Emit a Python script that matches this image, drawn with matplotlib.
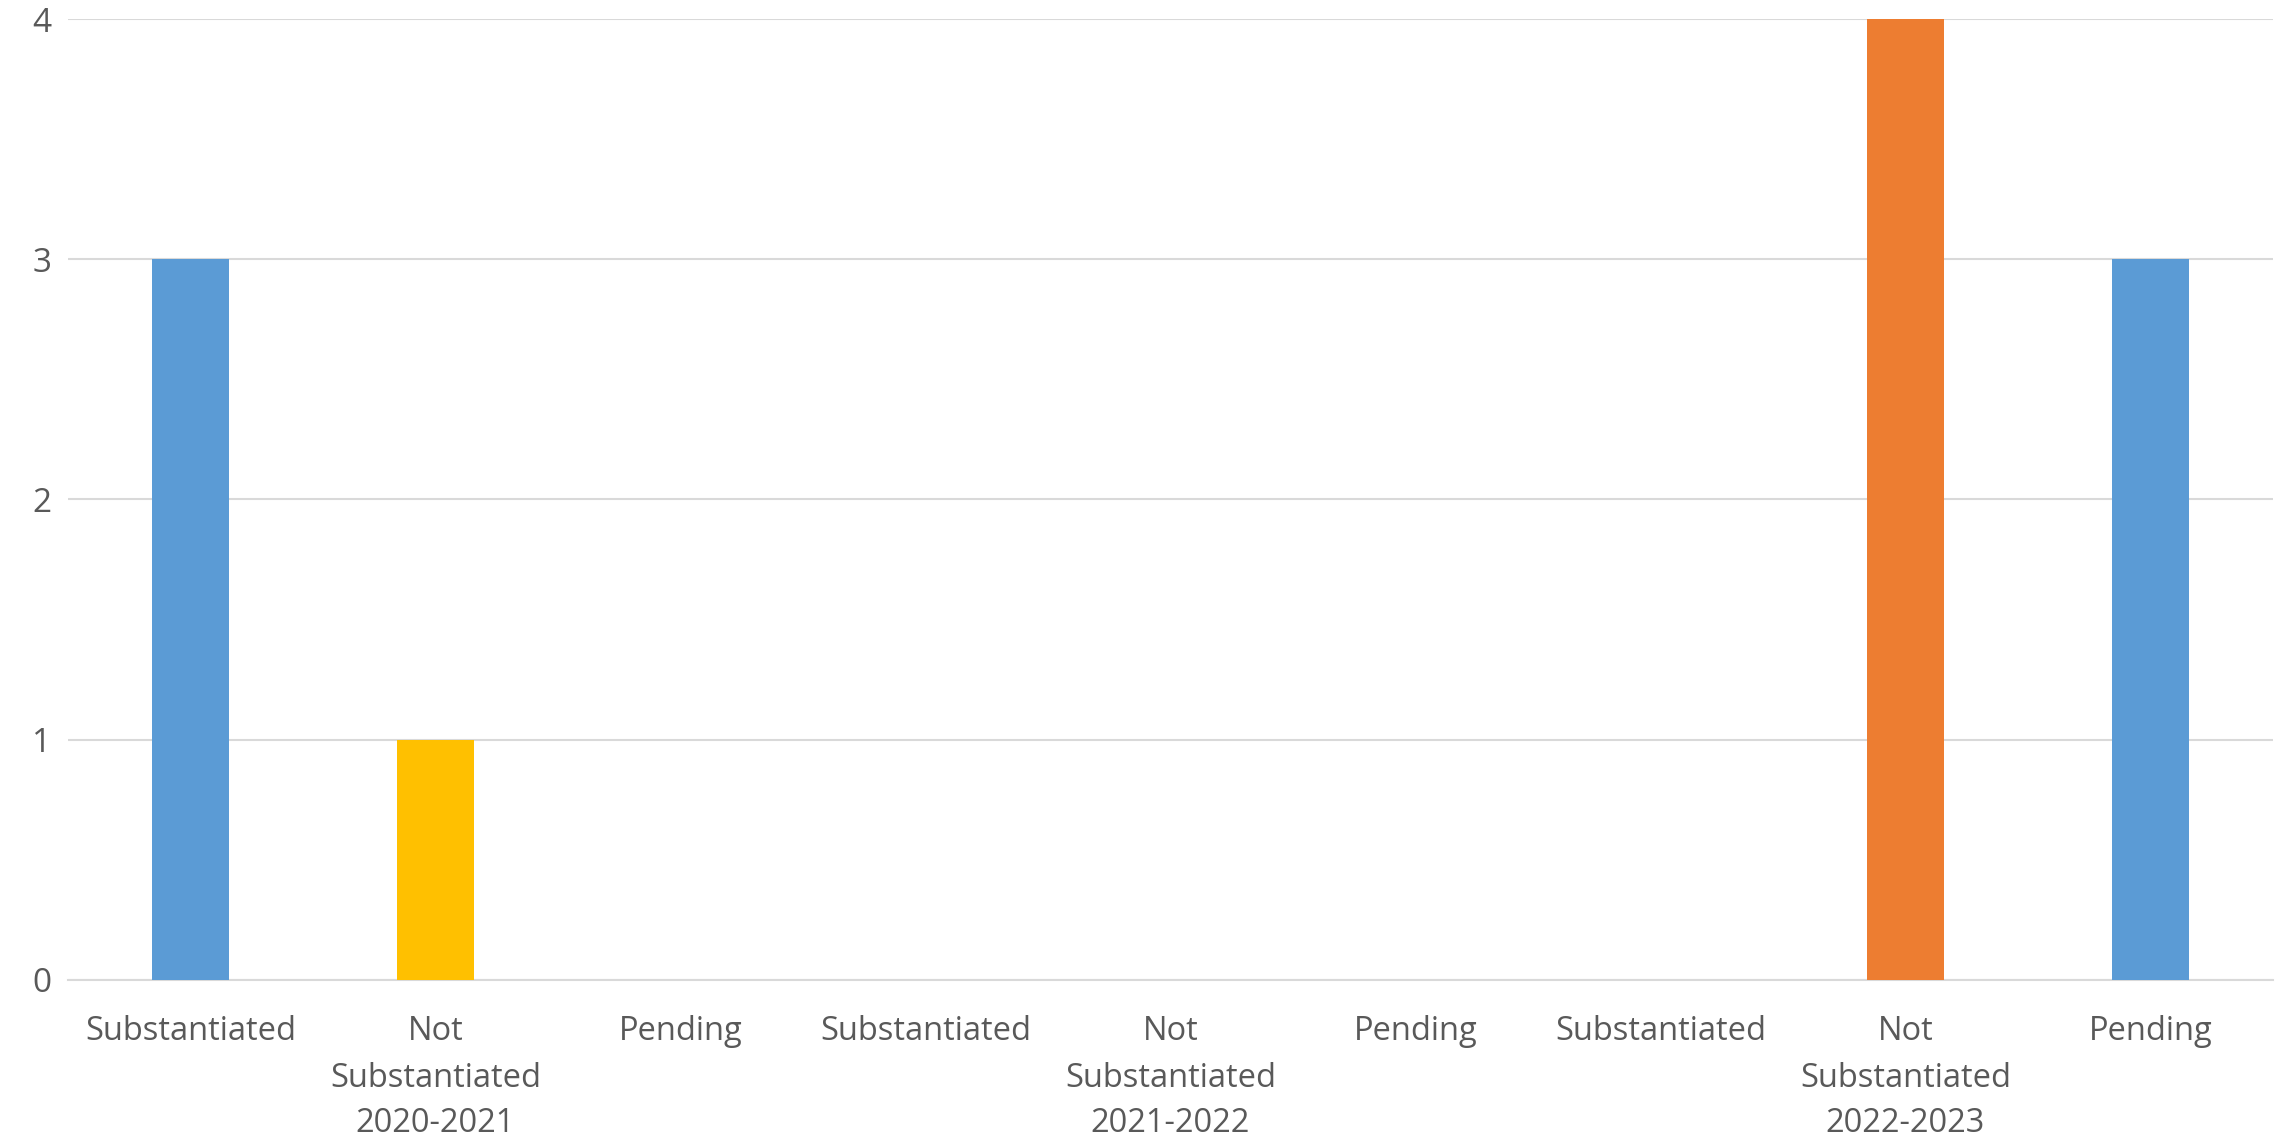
import matplotlib.pyplot as plt
import matplotlib.transforms as mtransforms

# Datos
categorias = ['Substantiated', 'Not\nSubstantiated', 'Pending'] * 3
periodos = ['2020-2021', '2021-2022', '2022-2023']
valores = [3, 1, 0, 0, 0, 0, 0, 4, 3]
colores = ['#5B9BD5', '#FFC000', '#5B9BD5',
           '#5B9BD5', '#FFC000', '#5B9BD5',
           '#5B9BD5', '#ED7D31', '#5B9BD5']

TXT = '#595959'
GRID = '#D9D9D9'

plt.rcParams['font.family'] = ['Open Sans', 'DejaVu Sans']

fig = plt.figure(figsize=(22.95, 11.4), dpi=100)
ax = fig.add_axes([0.0296, 0.1404, 0.9608, 0.8429])

x = list(range(len(valores)))
ax.bar(x, valores, width=0.314, color=colores, zorder=3)

ax.set_xlim(-0.5, len(valores) - 0.5)
ax.set_ylim(0, 4)
ax.set_yticks([0, 1, 2, 3, 4])
ax.grid(axis='y', color=GRID, linewidth=1.5, zorder=0)

for lado in ['top', 'right', 'left']:
    ax.spines[lado].set_visible(False)
ax.spines['bottom'].set_color(GRID)
ax.spines['bottom'].set_linewidth(1.5)

ax.set_xticks(x)
ax.set_xticklabels(categorias, va='top', linespacing=1.57)
ax.tick_params(axis='x', length=0, pad=25, labelsize=23.5, labelcolor=TXT)
ax.tick_params(axis='y', length=0, pad=12, labelsize=24, labelcolor=TXT)

# Etiquetas de periodo (segundo nivel del eje)
trans = mtransforms.blended_transform_factory(ax.transData, fig.transFigure)
for i, p in enumerate(periodos):
    ax.text(i * 3 + 1, 1 - 1123 / 1140, p, transform=trans, ha='center', va='center',
            fontsize=23.5, color=TXT)

fig.savefig('out.png', dpi=100)
